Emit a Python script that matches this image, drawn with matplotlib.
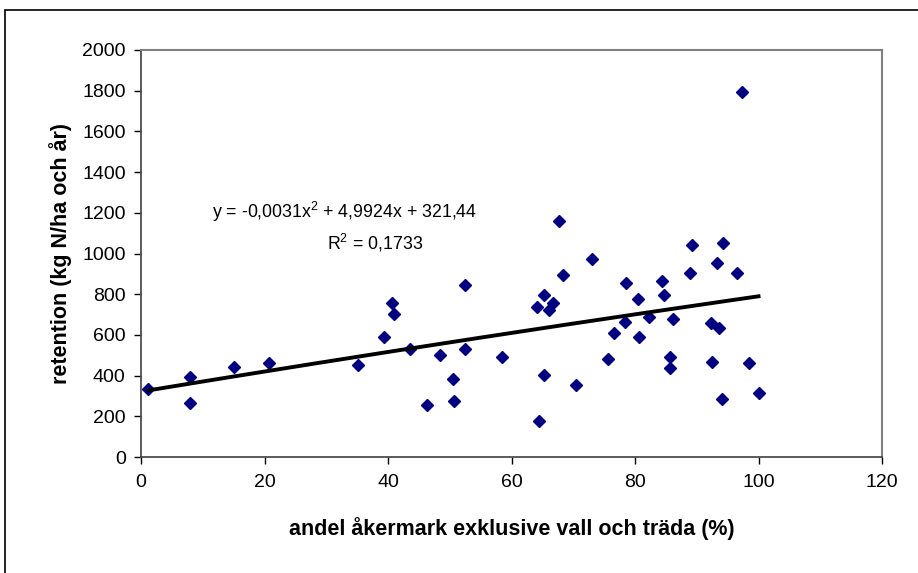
#!/usr/bin/env python3
"""Retention vs share of arable land, with quadratic trendline."""

import matplotlib

matplotlib.use("Agg")

import matplotlib.pyplot as plt
import numpy as np
from matplotlib.patches import Rectangle

###############################################################################
# Data
###############################################################################

andel = [1.2, 8.0, 8.0, 15.1, 20.7, 35.2, 39.4, 40.7, 41.0, 43.6, 46.3,
         48.5, 50.5, 50.7, 52.4, 52.4, 58.5, 64.1, 64.4, 65.3, 65.3, 66.1,
         66.7, 67.7, 68.3, 70.5, 73.1, 75.7, 76.6, 78.4, 78.6, 80.5, 80.6,
         82.3, 84.4, 84.7, 85.7, 85.7, 86.1, 88.9, 89.2, 92.3, 92.5, 93.2,
         93.6, 94.1, 94.2, 96.5, 97.4, 98.4, 100.0]
retention = [333, 392, 264, 441, 460, 450, 588, 755, 704, 531, 254,
             500, 382, 274, 531, 844, 490, 739, 175, 796, 401, 722,
             755, 1158, 893, 352, 973, 480, 608, 665, 853, 776, 588,
             686, 865, 795, 493, 439, 677, 903, 1042, 657, 468, 952,
             636, 283, 1052, 903, 1795, 460, 313]

# trendline coefficients as printed on the chart
trend_coeffs = [-0.0031, 4.9924, 321.44]
trend_text = "y = -0,0031x$^2$ + 4,9924x + 321,44"
r2_text = "R$^2$ = 0,1733"

x_ticks = [0, 20, 40, 60, 80, 100, 120]
y_ticks = [0, 200, 400, 600, 800, 1000, 1200, 1400, 1600, 1800, 2000]

###############################################################################
# Plot
###############################################################################

plt.rcParams["font.family"] = ["Liberation Sans", "DejaVu Sans"]
plt.rcParams["mathtext.fontset"] = "custom"
plt.rcParams["mathtext.rm"] = "Liberation Sans"

fig = plt.figure(figsize=(9.18, 5.73), dpi=100)
W, H = 918, 573

# outer chart border (only top and left visible in the crop)
fig.patches.append(
    Rectangle((5 / W, -0.05), 1.2, (H - 10) / H + 0.05,
              transform=fig.transFigure, fill=False,
              edgecolor="black", linewidth=1.2)
)

ax = fig.add_axes([141 / W, 1 - 457 / H, (882 - 141) / W, (457 - 50) / H])

ax.plot(andel, retention, linestyle="none", marker="D", markersize=6.5,
        color="#000080", zorder=3)

xs = np.linspace(min(andel), max(andel), 200)
ax.plot(xs, np.polyval(trend_coeffs, xs), color="black", linewidth=2.8,
        zorder=4)

ax.text(0.275, 0.602, trend_text, transform=ax.transAxes, fontsize=12.8,
        ha="center", va="center")
ax.text(0.316, 0.526, r2_text, transform=ax.transAxes, fontsize=12.8,
        ha="center", va="center")

ax.set_xlim(0, 120)
ax.set_ylim(0, 2000)
ax.set_xticks(x_ticks)
ax.set_yticks(y_ticks)
ax.tick_params(direction="out", length=5, width=1, labelsize=14,
               color="black", pad=6)
ax.tick_params(axis="x", pad=7)

for side in ("top", "right"):
    ax.spines[side].set_color("#808080")
    ax.spines[side].set_linewidth(1.5)
for side in ("left", "bottom"):
    ax.spines[side].set_color("#404040")
    ax.spines[side].set_linewidth(1.2)

ax.set_xlabel("andel åkermark exklusive vall och träda (%)", fontsize=15.5,
              fontweight="bold", labelpad=19)
ax.set_ylabel("retention (kg N/ha och år)", fontsize=15.5,
              fontweight="bold", labelpad=7)

fig.savefig("out.png", dpi=100)
